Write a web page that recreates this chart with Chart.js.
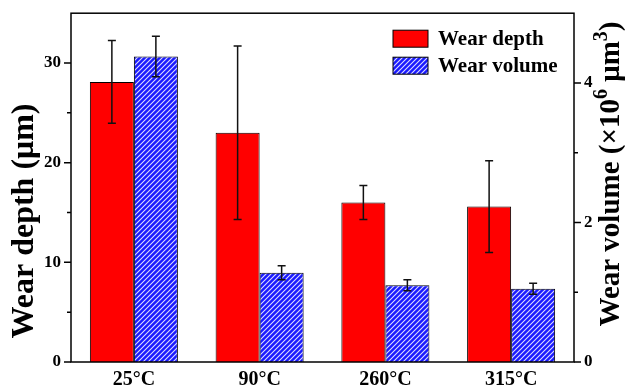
<!DOCTYPE html>
<html>
<head>
<meta charset="utf-8">
<script src="https://cdn.jsdelivr.net/npm/chart.js@4.4.0/dist/chart.umd.min.js"></script>
<style>
  html, body { margin: 0; padding: 0; background: #fff; }
</style>
</head>
<body>
<canvas id="wearChart" width="625" height="388"></canvas>
<script>
const categories = ['25°C', '90°C', '260°C', '315°C'];
const depth = [28.1, 23.0, 16.0, 15.6];
const depthErr = [4.15, 8.7, 1.7, 4.6];
const volume = [4.38, 1.28, 1.10, 1.05];
const volumeErr = [0.29, 0.10, 0.08, 0.08];
const depthLabels = [0, 10, 20, 30];
const volumeLabels = [0, 2, 4];

const SERIF = "'Liberation Serif', 'Times New Roman', serif";

// blue fill with thin white "/" stripes
function hatchPattern() {
  const shape = document.createElement('canvas');
  shape.width = 5; shape.height = 5;
  const c = shape.getContext('2d');
  c.fillStyle = '#1a1aff';
  c.fillRect(0, 0, 5, 5);
  c.strokeStyle = '#dcdcff';
  c.lineWidth = 1.1;
  c.beginPath();
  c.moveTo(-1, 6); c.lineTo(6, -1);
  c.moveTo(-1, 1); c.lineTo(1, -1);
  c.moveTo(4, 6); c.lineTo(6, 4);
  c.stroke();
  return c.createPattern(shape, 'repeat');
}
const hatch = hatchPattern();

// draws rotated text made of pieces (for superscripts)
function vText(ctx, parts, cx, cy) {
  ctx.save();
  ctx.translate(cx, cy);
  ctx.rotate(-Math.PI / 2);
  ctx.textBaseline = 'middle';
  ctx.textAlign = 'left';
  ctx.fillStyle = '#000';
  let w = 0;
  parts.forEach(p => { ctx.font = `bold ${p.size}px ${SERIF}`; p.w = ctx.measureText(p.t).width; w += p.w; });
  let x = -w / 2;
  parts.forEach(p => { ctx.font = `bold ${p.size}px ${SERIF}`; ctx.fillText(p.t, x, p.rise || 0); x += p.w; });
  ctx.restore();
}

const errorBars = {
  id: 'errorBars',
  afterDatasetsDraw(chart) {
    const ctx = chart.ctx;
    ctx.save();
    ctx.strokeStyle = '#111';
    ctx.lineWidth = 1.5;
    chart.data.datasets.forEach((ds, i) => {
      const scale = chart.scales[ds.yAxisID];
      chart.getDatasetMeta(i).data.forEach((bar, j) => {
        const yt = scale.getPixelForValue(ds.data[j] + ds.errors[j]);
        const yb = scale.getPixelForValue(ds.data[j] - ds.errors[j]);
        ctx.beginPath();
        ctx.moveTo(bar.x, yt); ctx.lineTo(bar.x, yb);
        ctx.moveTo(bar.x - 4, yt); ctx.lineTo(bar.x + 4, yt);
        ctx.moveTo(bar.x - 4, yb); ctx.lineTo(bar.x + 4, yb);
        ctx.stroke();
      });
    });
    ctx.restore();
  }
};

const frame = {
  id: 'frame',
  afterDraw(chart) {
    const { ctx, chartArea: a, scales } = chart;
    ctx.save();
    ctx.strokeStyle = '#000';
    ctx.lineWidth = 1.5;
    ctx.strokeRect(a.left, a.top, a.right - a.left, a.bottom - a.top);

    // tick marks, long for labelled values
    ctx.beginPath();
    scales.y.ticks.forEach(t => {
      if (t.value >= scales.y.max) return;
      const y = scales.y.getPixelForValue(t.value);
      const len = depthLabels.includes(t.value) ? 7 : 4;
      ctx.moveTo(a.left - len, y); ctx.lineTo(a.left, y);
    });
    scales.y1.ticks.forEach(t => {
      if (t.value >= scales.y1.max) return;
      const y = scales.y1.getPixelForValue(t.value);
      const len = volumeLabels.includes(t.value) ? 7 : 4;
      ctx.moveTo(a.right, y); ctx.lineTo(a.right + len, y);
    });
    ctx.stroke();

    // axis titles
    vText(ctx, [{ t: 'Wear depth (μm)', size: 32 }], 25, 221);
    vText(ctx, [
      { t: 'Wear volume (×10', size: 29 },
      { t: '6', size: 20, rise: -10 },
      { t: ' μm', size: 29 },
      { t: '3', size: 20, rise: -10 },
      { t: ')', size: 29 }
    ], 612, 174);

    // legend
    const items = [
      { label: chart.data.datasets[0].label, fill: chart.data.datasets[0].backgroundColor },
      { label: chart.data.datasets[1].label, fill: chart.data.datasets[1].backgroundColor }
    ];
    const lx = a.right - 181;
    items.forEach((it, k) => {
      const y = a.top + 17 + k * 27;
      ctx.fillStyle = it.fill;
      ctx.fillRect(lx, y, 35, 17);
      ctx.lineWidth = 1;
      ctx.strokeStyle = '#000';
      ctx.strokeRect(lx, y, 35, 17);
      ctx.fillStyle = '#000';
      ctx.font = `bold 21px ${SERIF}`;
      ctx.textBaseline = 'middle';
      ctx.textAlign = 'left';
      ctx.fillText(it.label, lx + 45, y + 9);
    });
    ctx.restore();
  }
};

new Chart(document.getElementById('wearChart'), {
  type: 'bar',
  data: {
    labels: categories,
    datasets: [
      {
        label: 'Wear depth',
        data: depth,
        errors: depthErr,
        yAxisID: 'y',
        backgroundColor: '#ff0000',
        borderColor: '#000',
        borderWidth: 1,
        categoryPercentage: 0.7,
        barPercentage: 1.0,
      },
      {
        label: 'Wear volume',
        data: volume,
        errors: volumeErr,
        yAxisID: 'y1',
        backgroundColor: hatch,
        borderColor: '#000',
        borderWidth: 1,
        categoryPercentage: 0.7,
        barPercentage: 1.0,
      }
    ]
  },
  options: {
    responsive: false,
    animation: false,
    devicePixelRatio: 1,
    layout: { padding: { top: 12, left: 0, right: 0, bottom: 0 } },
    plugins: { legend: { display: false }, tooltip: { enabled: false } },
    scales: {
      x: {
        grid: { display: false, drawTicks: false },
        border: { display: false },
        ticks: { color: '#000', padding: 6, font: { family: SERIF, size: 20, weight: 'bold' } },
        afterFit: s => { s.height = 26; },
      },
      y: {
        position: 'left',
        min: 0, max: 35,
        grid: { display: false, drawTicks: true, tickLength: 7 },
        border: { display: false },
        ticks: {
          stepSize: 5, padding: 3, color: '#000',
          font: { family: SERIF, size: 17, weight: 'bold' },
          callback: v => depthLabels.includes(v) ? v : '',
        },
        afterFit: s => { s.width = 71; },
      },
      y1: {
        position: 'right',
        min: 0, max: 5,
        grid: { display: false, drawTicks: true, tickLength: 7 },
        border: { display: false },
        ticks: {
          stepSize: 1, padding: 3, color: '#000',
          font: { family: SERIF, size: 17, weight: 'bold' },
          callback: v => volumeLabels.includes(v) ? v : '',
        },
        afterFit: s => { s.width = 51; },
      }
    }
  },
  plugins: [errorBars, frame]
});
</script>
</body>
</html>
